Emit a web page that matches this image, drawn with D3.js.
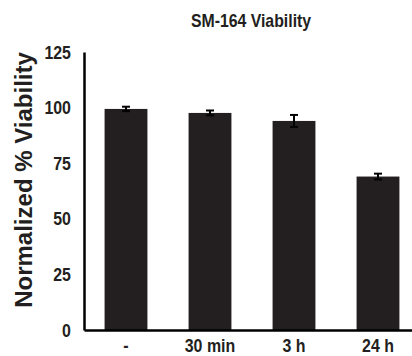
<!DOCTYPE html>
<html>
<head>
<meta charset="utf-8">
<script src="https://cdn.jsdelivr.net/npm/d3@7"></script>
<style>
  body { margin: 0; background: #fff; }
  svg { display: block; }
  .tick text { font-family: "Liberation Sans", Arial, sans-serif; font-weight: bold; fill: #231f20; }
</style>
</head>
<body>
<div id="chart"></div>
<script>
// chart values
var categories = ['-', '30 min', '3 h', '24 h'];
var viability = [99.4, 97.6, 94.0, 69.0];
var errors = [1.0, 1.1, 2.7, 1.3];
var yTicks = [0, 25, 50, 75, 100, 125];

var w = 412, h = 356;
var margin = {top: 52, left: 84, bottom: 26};
var squeeze = 0.84; // the original type is a condensed face

var svg = d3.select('#chart').append('svg')
    .attr('width', w)
    .attr('height', h);

var xScale = d3.scaleBand()
    .domain(categories)
    .range([margin.left, margin.left + 4 * 84])
    .paddingInner(0.49)
    .paddingOuter(0.245);

var yScale = d3.scaleLinear()
    .domain([0, 125])
    .range([h - margin.bottom, margin.top]);

// bars
svg.append('g').selectAll('rect')
    .data(viability)
    .enter().append('rect')
    .attr('x', function(d, i) { return xScale(categories[i]); })
    .attr('y', function(d) { return yScale(d); })
    .attr('width', xScale.bandwidth())
    .attr('height', function(d) { return yScale(0) - yScale(d); })
    .style('fill', '#231f20');

// error bars
var eb = svg.append('g').selectAll('g')
    .data(viability)
    .enter().append('g')
    .attr('transform', function(d, i) {
        return 'translate(' + (xScale(categories[i]) + xScale.bandwidth() / 2) + ',0)';
    });
eb.append('line')
    .attr('y1', function(d, i) { return yScale(d - errors[i]); })
    .attr('y2', function(d, i) { return yScale(d + errors[i]); })
    .style('stroke', '#000').style('stroke-width', 2);
eb.append('line')
    .attr('x1', -4).attr('x2', 4)
    .attr('y1', function(d, i) { return yScale(d + errors[i]); })
    .attr('y2', function(d, i) { return yScale(d + errors[i]); })
    .style('stroke', '#000').style('stroke-width', 2);
eb.append('line')
    .attr('x1', -4).attr('x2', 4)
    .attr('y1', function(d, i) { return yScale(d - errors[i]); })
    .attr('y2', function(d, i) { return yScale(d - errors[i]); })
    .style('stroke', '#000').style('stroke-width', 2);

// axes
var yAxis = svg.append('g')
    .attr('transform', 'translate(' + margin.left + ',0)')
    .call(d3.axisLeft(yScale).tickValues(yTicks).tickSize(0).tickPadding(13).tickSizeOuter(0));
yAxis.selectAll('text')
    .style('font-size', '19px')
    .attr('x', 0)
    .attr('transform', 'translate(-13,0) scale(' + squeeze + ',1)');
yAxis.select('.domain').style('stroke', '#000').style('stroke-width', 2.5);

var xAxis = svg.append('g')
    .attr('transform', 'translate(0,' + yScale(0) + ')')
    .call(d3.axisBottom(xScale).tickSize(0).tickPadding(9).tickSizeOuter(0));
xAxis.selectAll('text')
    .style('font-size', '19px')
    .attr('transform', 'scale(' + squeeze + ',1)');
xAxis.select('.domain').style('stroke', '#000').style('stroke-width', 2.5);

// title
svg.append('text')
    .attr('transform', 'translate(251,27) scale(0.88,1)')
    .attr('text-anchor', 'middle')
    .style('font-family', '"Liberation Sans", Arial, sans-serif')
    .style('font-weight', 'bold')
    .style('font-size', '18px')
    .style('fill', '#231f20')
    .text('SM-164 Viability');

// y label
svg.append('text')
    .attr('transform', 'translate(32,180) rotate(-90)')
    .attr('text-anchor', 'middle')
    .style('font-family', '"Liberation Sans", Arial, sans-serif')
    .style('font-weight', 'bold')
    .style('font-size', '24px')
    .style('fill', '#231f20')
    .text('Normalized % Viability');
</script>
</body>
</html>
